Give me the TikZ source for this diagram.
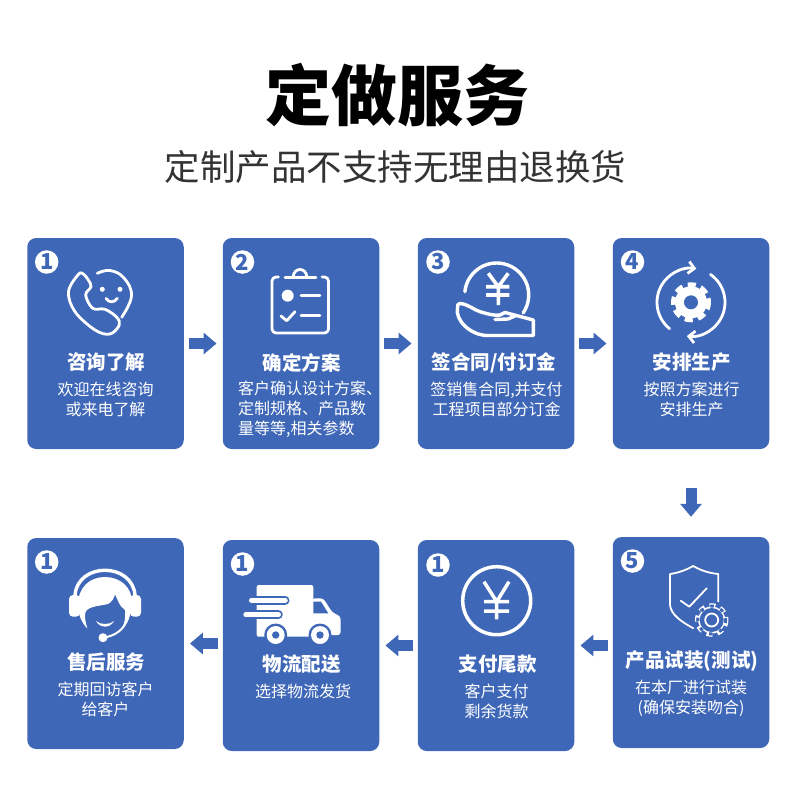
\documentclass[tikz,border=0pt]{standalone}
\usepackage{fontspec}
\usepackage{tikz}
\usetikzlibrary{arrows.meta,calc}
\setmainfont{Noto Sans CJK SC}

\definecolor{cardblue}{HTML}{3F67B7}
\definecolor{arrowblue}{HTML}{3F67B7}
\definecolor{subgray}{HTML}{333333}

\tikzset{
    card/.style={fill=cardblue, rounded corners=9pt, minimum width=156.5pt, minimum height=211pt, inner sep=0pt},
    badge/.style={circle, fill=white, text=cardblue, minimum size=23.5pt, inner sep=0pt, font=\fontsize{22}{22}\selectfont\bfseries},
    cardtitle/.style={text=white, inner sep=0pt, font=\fontsize{19.5}{20}\selectfont\bfseries},
    carddesc/.style={text=white, inner sep=0pt, align=center, font=\fontsize{16}{20}\selectfont},
    flow/.style={draw=arrowblue, line width=11pt, -{Triangle[length=13pt, width=21pt]}, shorten <=5pt, shorten >=6pt},
    icon/.style={draw=white, line width=2.8pt, line cap=round, line join=round},
}

\begin{document}
\begin{tikzpicture}[x=1pt, y=-1pt]
    \useasboundingbox (0,0) rectangle (790,796);

    % Draw headings
    \node[inner sep=0pt, font=\fontsize{66}{66}\selectfont\bfseries] (heading) at (397.5,95) {定做服务};
    \node[inner sep=0pt, text=subgray, font=\fontsize{35.5}{36}\selectfont] (subheading) at (395.5,167) {定制产品不支持无理由退换货};

    % Draw cards
    \node[card] (card1) at (105.5,343.5) {};
    \node[card] (card2) at (301,343.5) {};
    \node[card] (card3) at (496,343.5) {};
    \node[card] (card4) at (691,343.5) {};
    \node[card] (card5) at (691,642.5) {};
    \node[card] (card6) at (496,645.5) {};
    \node[card] (card7) at (301,645.5) {};
    \node[card] (card8) at (105.5,643.5) {};

    % Draw connectors
    \draw[flow] (card1.east) -- (card2.west);
    \draw[flow] (card2.east) -- (card3.west);
    \draw[flow] (card3.east) -- (card4.west);
    \draw[flow, shorten <=39pt, shorten >=20pt] (card4.south) -- (card5.north);
    \draw[flow] (card6.east -| card5.west) -- (card6.east);
    \draw[flow] (card6.west) -- (card7.east);
    \draw[flow] (card8.east -| card7.west) -- (card8.east);

    % Draw number badges
    \node[badge] (badge1) at (46.7,262) {1};
    \node[badge] (badge2) at (242.5,262) {2};
    \node[badge] (badge3) at (438,262) {3};
    \node[badge] (badge4) at (632.5,262) {4};
    \node[badge] (badge5) at (632.5,561) {5};
    \node[badge] (badge6) at (438,565) {1};
    \node[badge] (badge7) at (242.5,564) {1};
    \node[badge] (badge8) at (46.7,562) {1};

    % Draw titles
    \node[cardtitle] (title1) at (106,362.5) {咨询了解};
    \node[cardtitle] (title2) at (301.5,362.5) {确定方案};
    \node[cardtitle] (title3) at (494,362.5) {签合同/付订金};
    \node[cardtitle] (title4) at (691.5,362.5) {安排生产};
    \node[cardtitle] (title5) at (692,661.5) {产品试装(测试)};
    \node[cardtitle] (title6) at (497.5,664.5) {支付尾款};
    \node[cardtitle] (title7) at (301.5,664.5) {物流配送};
    \node[cardtitle] (title8) at (106,662.5) {售后服务};

    % Draw descriptions
    \node[carddesc] (desc1) at (105.5,399) {欢迎在线咨询\\或来电了解};
    \node[carddesc, align=left, anchor=west] (desc2) at (238,409) {客户确认设计方案、\\定制规格、产品数\\量等等,相关参数};
    \node[carddesc] (desc3) at (496.5,399) {签销售合同,并支付\\工程项目部分订金};
    \node[carddesc] (desc4) at (691.5,399) {按照方案进行\\安排生产};
    \node[carddesc] (desc5) at (691,698) {在本厂进行试装\\(确保安装吻合)};
    \node[carddesc] (desc6) at (496.5,701) {客户支付\\剩余货款};
    \node[carddesc] (desc7) at (303,691) {选择物流发货};
    \node[carddesc] (desc8) at (105.5,699) {定期回访客户\\给客户};

    % Icon 1: phone with a face
    \draw[icon] plot[smooth cycle, tension=0.6] coordinates {(78.3,274.5) (68.5,291.7) (75,311.7) (95,330) (110,334) (119.3,325) (116.7,317.3) (105,309.3) (92.7,308.3) (85.7,295) (91,286.7) (88.3,280) (83.3,274)};
    \draw[icon] plot[smooth, tension=0.7] coordinates {(97.3,273.3) (110,270.5) (124,278) (131.5,296) (121.7,317.3)};
    \fill[white] (102.3,289.3) circle (2.5pt) (120,289.3) circle (2.5pt);
    \draw[icon] (106,298.3) .. controls (109,303) and (114,303) .. (117.3,298.3);

    % Icon 2: clipboard
    \draw[icon, rounded corners=4pt] (278.5,277) -- (272,277) -- (272,333) -- (328.5,333) -- (328.5,277) -- (322,277);
    \draw[icon] (285,277.5) -- (316,277.5);
    \draw[icon] (293,277) .. controls (294,267) and (306,267) .. (307,277);
    \fill[white] (287.7,295.7) circle (6pt);
    \draw[icon] (301,295.7) -- (320,295.7) (301,315.7) -- (320,315.7);
    \draw[icon] (281,316) -- (286.7,320.7) -- (295,311.7);

    % Icon 3: coin on a hand
    \draw[icon, line width=3.4pt] (496.7,295) ++(174:32pt) arc[start angle=174, end angle=-34, radius=32pt];
    \draw[icon, line width=3.6pt, line cap=butt] (488.3,273.3) -- (498.3,286.7) -- (508.3,273.3) (486,286.7) -- (509.3,286.7) (486,295) -- (509.3,295) (498.3,286.7) -- (498.3,305);
    \draw[icon, line width=3.4pt] (460,303.5) .. controls (468,304) and (474,310) .. (480,311.7) .. controls (488,314) and (495,316) .. (500,315) -- (505,312.5) -- (533.3,320) -- (533.3,335.5) -- (487,335.5) .. controls (470,335) and (455,320) .. (457.5,308) .. controls (457,305) and (458,303.5) .. (460,303.5) -- cycle;
    \draw[icon, line width=3.4pt] (495,319.5) -- (508,319) -- (515,316);

    % Icon 4: gear with two arrows
    \draw[icon, -{Straight Barb[length=6pt, width=12pt]}] (691,302.3) ++(231:34pt) arc[start angle=231, end angle=81, radius=34pt];
    \draw[icon, -{Straight Barb[length=6pt, width=12pt]}] (691,302.3) ++(55:34pt) arc[start angle=55, end angle=-97, radius=34pt];
    \fill[white] (691,302.3) circle (16pt);
    \draw[white, line width=5pt, dash pattern=on 8pt off 5.35pt, dash phase=4pt] (691,302.3) circle (17.5pt);
    \fill[cardblue] (691,302.3) circle (7pt);

    % Icon 5: shield with a small gear
    \draw[icon, line width=1.8pt] (718.3,604) -- (718.3,574) .. controls (708,573) and (700,570) .. (693.3,566) .. controls (686,570) and (678,573) .. (670,574) -- (670,605) .. controls (671,615) and (682,622) .. (693.3,628.3);
    \draw[icon, line width=1.8pt] (680.7,600.7) -- (689.3,606.7) -- (706.7,588.3);
    \fill[cardblue] (711.7,620) circle (19pt);
    \fill[white] (711.7,620) circle (13.5pt);
    \draw[white, line width=4.5pt, dash pattern=on 5.8pt off 5.2pt, dash phase=2.9pt] (711.7,620) circle (14.5pt);
    \draw[cardblue, line width=3pt, dash pattern=on 3.6pt off 7.2pt, dash phase=1.8pt] (711.7,620) circle (14pt);
    \fill[cardblue] (711.7,620) circle (12pt);
    \draw[white, line width=1.8pt] (711.7,620) circle (6.5pt);

    % Icon 6: yen coin
    \draw[icon, line width=3.5pt] (496.7,600.7) circle (34pt);
    \draw[icon, line width=3.5pt, line cap=butt] (484,581.7) -- (496.7,601.7) -- (509,581.7) (484,601.7) -- (509,601.7) (484,611) -- (509,611) (496.7,601.7) -- (496.7,619.3);

    % Icon 7: delivery truck
    \fill[white, rounded corners=2pt] (256.7,585) rectangle (313.3,636.7);
    \fill[white, rounded corners=3pt] (312,598.3) -- (323.3,598.3) -- (332,612) -- (340.7,616.7) -- (340.7,635) -- (312,635) -- cycle;
    \fill[cardblue] (313.3,601.7) -- (321,601.7) -- (328.3,613.3) -- (313.3,613.3) -- cycle;
    \draw[cardblue, line width=9pt, line cap=round] (251.7,600.3) -- (285,600.3) (246,614.7) -- (278.3,614.7);
    \draw[white, line width=5.5pt, line cap=round] (251.7,600.3) -- (285,600.3) (246,614.7) -- (278.3,614.7);
    \fill[cardblue] (275.7,635) circle (11.5pt) (320,635) circle (11.5pt);
    \fill[white] (275.7,635) circle (9pt) (320,635) circle (9pt);
    \fill[cardblue] (275.7,635) circle (3.7pt) (320,635) circle (3.7pt);

    % Icon 8: agent with a headset
    \draw[icon, line width=3.4pt] (75,595) .. controls (78,562) and (132,562) .. (135,595);
    \fill[white, rounded corners=4pt] (69,595) rectangle (80,616.7);
    \fill[white, rounded corners=4pt] (130,595) rectangle (141,616.7);
    \fill[white] (105,577) .. controls (90,577) and (78,587) .. (78,605) .. controls (78,615) and (82,623) .. (87.3,628.5) .. controls (85,620) and (84,615) .. (86,611) .. controls (90,606) and (100,606) .. (108,604) .. controls (112,602) and (114,598) .. (115,594.3) .. controls (118,600) and (119,606) .. (125,610) .. controls (126,618) and (124,624) .. (122,628.5) .. controls (129,622) and (132,612) .. (132,602) .. controls (132,587) and (120,577) .. (105,577) -- cycle;
    \fill[white] (96,621) .. controls (100,625) and (110,625) .. (114,621) .. controls (110,628.5) and (100,628.5) .. (96,621) -- cycle;
    \draw[icon, line width=2pt] (128,618) .. controls (124,630) and (115,636) .. (103,637.7);
    \fill[white] (103,637.7) circle (4.5pt);
\end{tikzpicture}
\end{document}
